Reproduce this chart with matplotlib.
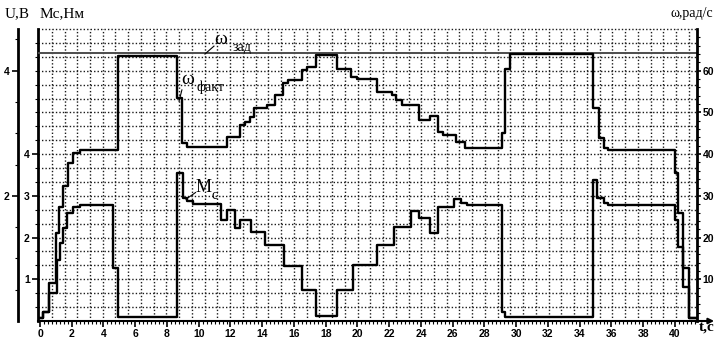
import matplotlib
matplotlib.use("Agg")
import matplotlib.pyplot as plt
import numpy as np

# step switching times (s) and levels
T_W = [-0.1, 0.2, 0.59, 1.01, 1.22, 1.43, 1.74, 2.06, 2.52, 4.93, 8.61, 8.93, 9.24,
       11.76, 12.6, 12.9, 13.2, 13.5, 14.3, 14.8, 15.3, 15.6, 16.5, 16.8, 17.4,
       18.7, 19.6, 19.95, 21.2, 22.2, 22.4, 22.8, 23.9, 24.6, 25.1, 25.4, 26.2, 26.8,
       29.1, 29.3, 29.6, 34.85, 35.2, 35.5, 35.8, 40.0, 40.2, 40.5, 40.9]
W_FACT = [0.7, 2.2, 9.2, 21.2, 27.3, 32.4, 37.9, 40.3, 41.0, 63.5, 53.4, 42.6, 41.8,
          44.2, 47.0, 47.8, 49.0, 51.0, 51.8, 54.2, 57.0, 57.8, 60.2, 61.0, 63.8,
          60.3, 58.6, 57.9, 55.0, 54.2, 53.0, 51.8, 48.2, 49.1, 45.4, 44.6, 43.0, 41.4,
          45.0, 60.5, 64.0, 51.0, 43.8, 41.4, 41.0, 35.4, 25.8, 12.6, 0.6]

T_M = [-0.1, 0.2, 0.59, 1.05, 1.26, 1.43, 1.68, 2.06, 2.52, 4.58, 4.93, 8.65, 8.99,
       9.24, 9.62, 11.38, 11.76, 12.28, 12.6, 13.3, 14.2, 15.4, 16.5, 17.4, 18.7,
       19.7, 21.2, 22.3, 23.4, 23.9, 24.6, 25.1, 26.1, 26.5, 26.9, 29.08, 29.3,
       34.85, 35.1, 35.5, 35.8, 40.0, 40.2, 40.5, 40.9]
M_C = [0.07, 0.22, 0.66, 1.46, 1.86, 2.22, 2.58, 2.73, 2.77, 1.26, 0.1, 3.54, 2.94,
       2.88, 2.8, 2.42, 2.66, 2.22, 2.42, 2.14, 1.82, 1.32, 0.74, 0.12, 0.74,
       1.34, 1.82, 2.26, 2.64, 2.46, 2.1, 2.74, 2.92, 2.82, 2.78, 0.22, 0.1,
       3.38, 2.94, 2.82, 2.77, 2.42, 1.78, 0.82, 0.06]

W_ZAD = 64.2
T_END = 41.3

X_TICKS = list(range(0, 42, 2))
W_TICKS = [10, 20, 30, 40, 50, 60]
M_TICKS = [1, 2, 3, 4]
U_TICKS = [2, 4]

W, H = 715, 338
SERIF = "Liberation Serif"
TICKFONT = dict(family=["Liberation Sans Narrow", "Liberation Sans"],
                weight="bold", size=7.5)


def main():
    fig = plt.figure(figsize=(W / 100, H / 100), dpi=100)
    ax = fig.add_axes([38 / W, 17 / H, 659 / W, 292 / H])
    axw = ax.twinx()
    axu = ax.twinx()

    xlim = (-0.126, 41.39)
    ax.set_xlim(*xlim)
    ax.set_ylim(0, 7)
    axw.set_ylim(0, 70)
    axu.set_ylim(0, 7 / 1.5)

    # dotted oscilloscope grid
    gs = dict(color="0.1", lw=1.0, linestyle=(0, (1, 1.5)), zorder=0, clip_on=False)
    ax.hlines(np.arange(1, 22) / 3, *xlim, **gs)
    ax.vlines(-0.06 + 0.8026 * np.arange(1, 52), 0, 7, **gs)

    # curves
    axw.axhline(W_ZAD, color="0.3", lw=1.4)
    axw.plot(T_W + [T_END], W_FACT + [W_FACT[-1]], drawstyle="steps-post",
             color="black", lw=1.7)
    ax.plot(T_M + [T_END], M_C + [M_C[-1]], drawstyle="steps-post",
            color="black", lw=1.7)

    # spines
    for a in (ax, axw, axu):
        for s in a.spines.values():
            s.set_visible(False)
    ax.spines["left"].set_visible(True)
    ax.spines["left"].set_linewidth(2)
    ax.spines["bottom"].set_visible(True)
    ax.spines["bottom"].set_linewidth(1.5)
    axw.spines["right"].set_visible(True)
    axw.spines["right"].set_linewidth(2)
    axu.spines["left"].set_visible(True)
    axu.spines["left"].set_linewidth(2)
    axu.spines["left"].set_position(("axes", -20 / 659))
    axu.yaxis.set_ticks_position("left")
    axu.yaxis.set_label_position("left")

    # ticks
    ax.set_xticks(X_TICKS)
    ax.set_xticks(np.arange(0, 41.3, 0.25), minor=True)
    ax.set_yticks(M_TICKS)
    ax.set_yticks(np.arange(1, 21) / 3, minor=True)
    axw.set_yticks(W_TICKS)
    axw.set_yticks(np.arange(2, 70, 2), minor=True)
    axu.set_yticks(U_TICKS)
    axu.set_yticks(np.arange(0.5, 4.6, 0.5), minor=True)
    fp = matplotlib.font_manager.FontProperties(**TICKFONT)
    for a in (ax, axw, axu):
        a.tick_params(which="major", direction="out", length=4, width=1.2, pad=2)
        a.tick_params(which="minor", direction="out", length=2, width=0.8)
        for lab in a.get_xticklabels() + a.get_yticklabels():
            lab.set_fontproperties(fp)
    axw.tick_params(which="major", length=3, pad=1)

    # curve labels
    tk = dict(family=SERIF, color="black")
    axw.text(11.0, 67.4, "ω", fontsize=14, va="center", ha="left", **tk)
    axw.text(12.1, 65.6, "зад", fontsize=10, va="center", ha="left", **tk)
    axw.plot([10.39, 10.96], [64.0, 65.9], color="black", lw=0.8)
    axw.text(8.88, 57.8, "ω", fontsize=14, va="center", ha="left", **tk)
    axw.text(9.85, 56.0, "факт", fontsize=10, va="center", ha="left", **tk)
    axw.plot([8.76, 8.94], [52.7, 55.4], color="black", lw=0.8)
    axw.text(9.8, 31.9, "M", fontsize=13, va="center", ha="left", **tk)
    axw.text(10.8, 30.0, "с", fontsize=10, va="center", ha="left", **tk)
    axw.plot([9.2, 9.8], [29.2, 30.8], color="black", lw=0.8)

    # axis names and arrow on time axis
    ax.annotate("", xy=(1.026, 0), xytext=(1.0, 0), xycoords="axes fraction",
                arrowprops=dict(arrowstyle="-|>", color="black", lw=1.5,
                                mutation_scale=8, shrinkA=0, shrinkB=0))
    fig.text(5 / W, 1 - 14 / H, "U,В", fontsize=11, family=SERIF, va="center")
    fig.text(40 / W, 1 - 14 / H, "Мс,Нм", fontsize=11, family=SERIF, va="center")
    fig.text(713 / W, 1 - 14 / H, "ω,рад/с", fontsize=10, family=SERIF,
             va="center", ha="right")
    fig.text(699 / W, 1 - 327 / H, "t,с", fontsize=11, family=SERIF,
             weight="bold", va="center")

    fig.savefig("out.png", dpi=100)
    plt.close(fig)


if __name__ == "__main__":
    main()
